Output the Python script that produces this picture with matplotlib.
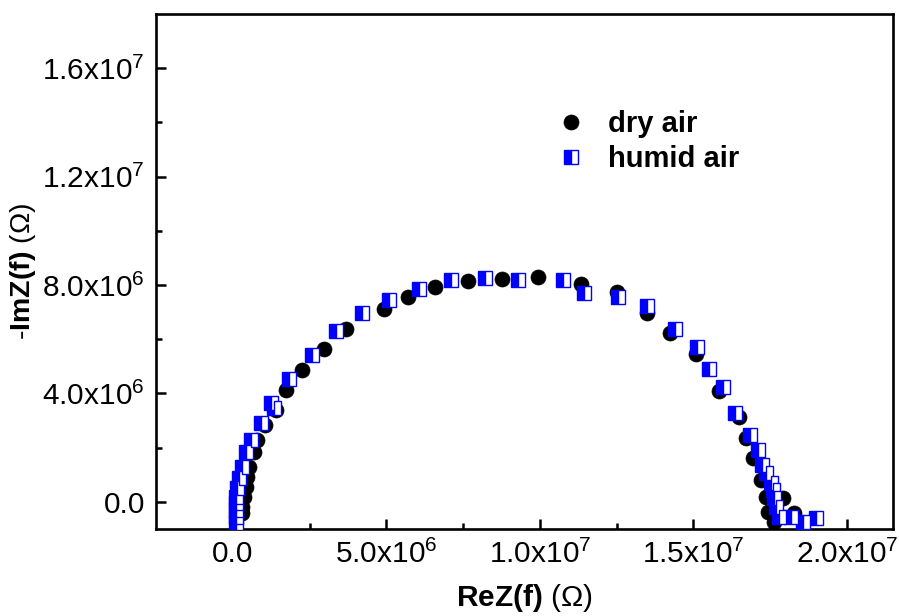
import matplotlib
matplotlib.use("Agg")
import matplotlib.pyplot as plt
import numpy as np

plt.rcParams['font.family'] = ['Liberation Sans', 'DejaVu Sans']
plt.rcParams['mathtext.fontset'] = 'custom'
plt.rcParams['mathtext.rm'] = 'Liberation Sans'
plt.rcParams['mathtext.bf'] = 'Liberation Sans:bold'
plt.rcParams['mathtext.it'] = 'Liberation Sans:italic'

# ---- data (in units of 1e6 Ohm) ----
dry_re = [0.29, 0.29, 0.36, 0.42, 0.46, 0.52, 0.69, 0.78, 1.05, 1.41, 1.73, 2.25,
          2.97, 3.69, 4.93, 5.72, 6.60, 7.65, 8.76, 9.93, 11.34, 12.52, 13.50,
          14.25, 15.07, 15.85, 16.47, 16.70, 16.93, 17.19, 17.35, 17.91, 17.42,
          18.27, 17.61]
dry_im = [-0.41, -0.18, 0.18, 0.55, 0.92, 1.29, 1.85, 2.29, 2.84, 3.39, 4.13, 4.87,
          5.65, 6.38, 7.12, 7.56, 7.93, 8.15, 8.23, 8.30, 8.04, 7.75, 6.97,
          6.24, 5.46, 4.10, 3.14, 2.36, 1.62, 0.81, 0.18, 0.15, -0.37,
          -0.41, -0.74]

humid_re = [0.10, 0.10, 0.10, 0.10, 0.10, 0.13, 0.20, 0.29, 0.42, 0.59, 0.92, 1.24,
            1.34, 1.83, 2.58, 3.37, 4.22, 5.10, 6.05, 7.12, 8.20, 9.28, 10.75,
            11.44, 12.55, 13.50, 14.41, 15.13, 15.52, 15.98, 16.34, 16.83, 17.12,
            17.25, 17.35, 17.52, 17.58, 17.61, 17.68, 17.78, 18.17, 18.56, 18.99]
humid_im = [-0.77, -0.55, -0.30, -0.04, 0.18, 0.52, 0.89, 1.29, 1.85, 2.29, 2.92, 3.65,
            3.47, 4.54, 5.42, 6.31, 6.97, 7.45, 7.86, 8.19, 8.27, 8.19, 8.19,
            7.71, 7.56, 7.23, 6.38, 5.72, 4.91, 4.24, 3.28, 2.47, 1.92,
            1.37, 1.07, 0.70, 0.44, 0.15, -0.18, -0.55, -0.55, -0.74, -0.59]

series_labels = ['dry air', 'humid air']

xtick_vals = [0.0, 5e6, 1e7, 1.5e7, 2e7]
xtick_labels = ['0.0', r'5.0x10$^{6}$', r'1.0x10$^{7}$', r'1.5x10$^{7}$', r'2.0x10$^{7}$']
ytick_vals = [0.0, 4e6, 8e6, 1.2e7, 1.6e7]
ytick_labels = ['0.0', r'4.0x10$^{6}$', r'8.0x10$^{6}$', r'1.2x10$^{7}$', r'1.6x10$^{7}$']

scale = 1e6

fig = plt.figure(figsize=(8.99, 6.16), dpi=100)
ax = fig.add_axes([0.1735, 0.1412, 0.8198, 0.8361])

ax.plot(np.array(dry_re) * scale, np.array(dry_im) * scale, linestyle='none',
        marker='o', markersize=10.8, markerfacecolor='black', markeredgecolor='black',
        markeredgewidth=0.5, label=series_labels[0], zorder=3)
ax.plot(np.array(humid_re) * scale, np.array(humid_im) * scale, linestyle='none',
        marker='s', markersize=9.8, fillstyle='left', markerfacecolor='#0000ff',
        markerfacecoloralt='white', markeredgecolor='#0000ff', markeredgewidth=1.0,
        label=series_labels[1], zorder=4)

ax.set_xlim(-2.5e6, 2.15e7)
ax.set_ylim(-1.0e6, 1.8e7)

ax.set_xticks(xtick_vals)
ax.set_xticklabels(xtick_labels)
ax.set_yticks(ytick_vals)
ax.set_yticklabels(ytick_labels)
ax.set_xticks([2.5e6, 7.5e6, 1.25e7, 1.75e7], minor=True)
ax.set_yticks([2e6, 6e6, 1e7, 1.4e7], minor=True)

ax.tick_params(axis='both', which='major', direction='in', length=7, width=1.8,
               labelsize=21.5, pad=8, top=False, right=False)
ax.tick_params(axis='both', which='minor', direction='in', length=4, width=1.8,
               top=False, right=False)

for s in ax.spines.values():
    s.set_linewidth(1.9)

ax.set_xlabel(r'$\mathbf{ReZ(f)}$ ($\Omega$)', fontsize=21.5, labelpad=9)
ax.set_ylabel(r'$\mathbf{\text{-}ImZ(f)}$ ($\Omega$)', fontsize=20.5, labelpad=3)

leg = ax.legend(loc='upper left', bbox_to_anchor=(0.534, 0.814), frameon=False,
                prop={'weight': 'bold', 'size': 21}, handlelength=1.5,
                handletextpad=0.5, labelspacing=0.25, borderaxespad=0,
                borderpad=0)

fig.savefig('out.png', dpi=100)
